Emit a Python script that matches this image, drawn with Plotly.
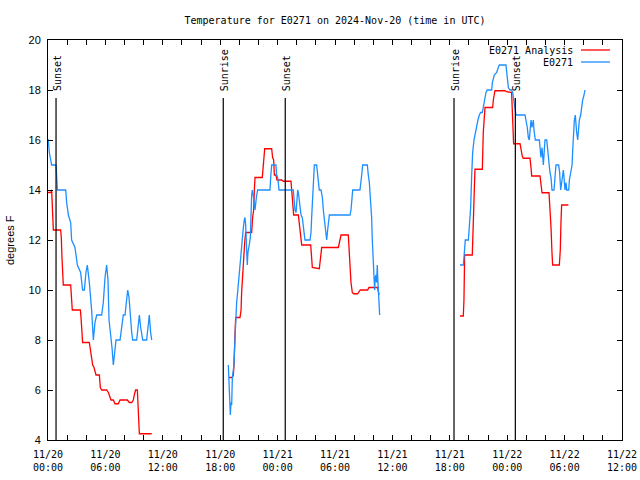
import pandas as pd
import plotly.graph_objects as go

START = "2024-11-20 00:00"
END = "2024-11-22 12:00"

# hours after 2024-11-20 00:00 UTC; None marks a data gap
obs_hours = [0.00, 0.03, 0.14, 0.38, 0.84, 0.98, 1.85, 1.95, 2.13, 2.37, 2.47, 2.82, 3.07, 3.41, 3.62, 3.80,
             3.97, 4.11, 4.32, 4.56, 4.74, 4.91, 5.09, 5.61, 5.78, 5.96, 6.13, 6.27, 6.38, 6.55, 6.69, 6.83,
             7.00, 7.11, 7.53, 7.70, 7.87, 8.05, 8.22, 8.33, 8.47, 8.57, 8.75, 8.85, 9.27, 9.44, 9.55, 9.69,
             9.90, 10.31, 10.49, 10.59, 10.73, 10.84,
             14.0,
             18.85, 18.92, 18.99, 19.06, 19.13, 19.20, 19.27, 19.37, 19.44, 19.55, 19.62, 19.72, 19.82, 19.90,
             20.00, 20.11, 20.21, 20.31, 20.42, 20.52, 20.59, 20.66, 20.70, 20.77, 20.83, 20.90, 21.01, 21.08,
             21.15, 21.22, 21.29, 21.36, 21.46, 21.53, 21.64, 21.71, 21.78, 21.91, 23.20, 23.28, 23.38, 23.83,
             23.90, 24.01, 24.15, 25.64, 25.71, 25.82, 25.93, 26.03, 26.10, 26.17, 26.24, 26.34, 26.45, 26.58,
             26.69, 26.86, 27.39, 27.49, 27.56, 27.67, 27.74, 27.84, 28.08, 28.19, 28.36, 28.54, 28.68, 28.78,
             28.89, 29.03, 29.13, 29.23, 29.30, 29.41, 31.57, 31.67, 31.74, 31.85, 32.61, 32.72, 32.79, 32.89,
             33.38, 33.48, 33.59, 33.69, 33.83, 33.90, 34.00, 34.07, 34.14, 34.21, 34.28, 34.35, 34.42, 34.49,
             34.56, 34.67,
             38.0,
             43.07, 43.41, 43.48, 43.55, 43.62, 43.94, 44.01, 44.11, 44.18, 44.28, 44.39, 44.53, 44.67, 44.81,
             44.94, 45.09, 45.22, 45.40, 45.50, 45.64, 45.78, 45.92, 46.38, 46.45, 46.65, 46.90, 47.07, 47.18,
             47.87, 48.01, 48.12, 48.29, 48.46, 48.57, 48.71, 48.81, 48.92, 49.86, 49.96, 50.10, 50.21, 50.31,
             50.42, 50.49, 50.59, 50.73, 50.80, 50.94, 51.36, 51.43, 51.53, 51.64, 51.71, 51.78, 51.88, 51.95,
             52.13, 52.23, 52.34, 52.47, 52.58, 52.68, 52.89, 53.00, 53.10, 53.38, 53.48, 53.59, 53.73, 53.87,
             53.94, 54.04, 54.15, 54.22, 54.43, 54.50, 54.64, 54.78, 54.85, 54.92, 55.02, 55.12, 55.19, 55.26,
             55.37, 55.47, 55.54, 55.68, 55.79, 55.89, 56.03, 56.13]
obs_temps = [16.0, 16.0, 15.5, 15.0, 15.0, 14.0, 14.0, 13.5, 13.0, 12.7, 12.0, 11.7, 11.0, 10.7, 10.0, 10.0,
             10.7, 11.0, 10.3, 9.2, 8.0, 8.7, 9.0, 9.0, 9.5, 10.5, 11.0, 10.4, 8.8, 8.3, 7.7, 7.0,
             7.7, 8.0, 8.0, 8.5, 9.0, 9.0, 9.7, 10.0, 9.7, 9.1, 8.3, 8.0, 8.0, 8.6, 9.0, 8.5,
             8.0, 8.0, 8.6, 9.0, 8.3, 8.0,
             None,
             7.0, 6.5, 5.5, 5.0, 5.5, 5.4, 6.5, 6.9, 7.0, 8.1, 9.1, 9.5, 9.9, 10.3,
             10.7, 11.2, 11.7, 12.1, 12.5, 12.8, 12.9, 12.6, 12.2, 11.5, 11.0, 11.5, 11.7, 11.9,
             12.1, 13.5, 13.8, 14.0, 13.8, 13.6, 13.2, 13.5, 13.7, 14.0, 14.0, 14.5, 15.0, 15.0,
             14.6, 14.5, 14.0, 14.0, 13.6, 13.2, 13.1, 13.5, 14.0, 13.9, 13.6, 13.2, 13.0, 12.9,
             12.5, 12.0, 12.0, 12.3, 12.9, 14.0, 14.5, 15.0, 15.0, 14.6, 14.0, 14.0, 13.7, 13.2,
             12.8, 12.3, 12.0, 12.4, 12.7, 13.0, 13.0, 13.2, 13.5, 14.0, 14.0, 14.3, 14.6, 15.0,
             15.0, 14.6, 14.3, 13.7, 12.9, 12.0, 11.1, 10.3, 10.0, 10.5, 10.6, 10.3, 11.0, 10.3,
             9.5, 9.0,
             None,
             11.0, 11.0, 11.3, 11.7, 12.0, 12.0, 12.3, 12.9, 13.3, 14.5, 15.5, 16.0, 16.3, 16.6,
             16.8, 17.0, 17.1, 17.1, 17.4, 17.6, 17.9, 18.0, 18.0, 18.3, 18.6, 18.7, 18.9, 19.0,
             19.0, 18.5, 18.1, 18.0, 18.0, 17.9, 17.6, 17.4, 17.0, 17.0, 16.8, 16.5, 16.1, 16.0,
             16.5, 16.8, 16.5, 16.8, 16.4, 16.0, 16.0, 15.7, 15.3, 15.7, 15.3, 15.0, 15.6, 16.0,
             16.0, 15.6, 15.0, 14.7, 14.5, 14.0, 14.0, 14.4, 15.0, 15.0, 14.7, 14.0, 14.5, 14.8,
             14.5, 14.0, 14.3, 14.0, 14.0, 14.4, 14.7, 15.0, 15.6, 16.3, 16.8, 17.0, 16.5, 16.3,
             16.0, 16.4, 16.8, 17.0, 17.4, 17.6, 17.8, 18.0]

ana_hours = [0.00, 0.31, 0.38, 0.45, 0.49, 0.56, 1.32, 1.39, 1.46, 1.53, 1.60, 2.37, 2.40, 2.47, 2.54, 2.93,
             3.38, 3.45, 3.52, 3.62, 4.32, 4.39, 4.46, 4.56, 4.67, 4.81, 4.91, 5.02, 5.37, 5.47, 5.61, 6.13,
             6.31, 6.48, 6.59, 6.83, 7.00, 7.35, 7.53, 8.29, 8.50, 8.75, 8.92, 9.02, 9.16, 9.34, 9.41, 9.48,
             9.55, 10.84,
             14.0,
             18.92, 19.27, 19.37, 19.44, 19.55, 19.62, 20.07, 20.18, 20.24, 20.35, 20.45, 20.56, 20.66, 21.29,
             21.39, 21.50, 21.57, 21.64, 22.40, 22.51, 22.58, 22.65, 23.38, 23.48, 23.59, 23.66, 23.83, 23.94,
             24.42, 24.60, 25.40, 25.47, 25.54, 25.61, 25.68, 26.17, 26.24, 26.34, 26.45, 26.52, 27.46, 27.56,
             27.63, 28.36, 28.47, 28.61, 30.35, 30.45, 30.63, 31.39, 31.46, 31.57, 31.67, 31.81, 31.95, 32.37,
             32.51, 32.64, 33.41, 33.55, 34.46, 34.53, 34.60,
             38.0,
             43.07, 43.41, 43.48, 43.55, 44.35, 44.46, 44.56, 44.63, 45.40, 45.50, 45.68, 46.48, 46.55, 46.72,
             47.77, 47.94, 48.46, 48.53, 48.60, 48.67, 49.34, 49.44, 49.58, 49.68, 50.38, 50.49, 50.56, 51.43,
             51.53, 51.64, 52.37, 52.47, 52.58, 52.68, 52.75, 53.45, 53.55, 53.62, 53.69, 54.39]
ana_temps = [13.9, 13.9, 14.0, 13.5, 12.8, 12.4, 12.4, 12.1, 11.3, 10.6, 10.2, 10.2, 9.9, 9.5, 9.2, 9.2,
             9.2, 8.9, 8.2, 7.9, 7.9, 7.7, 7.5, 7.2, 7.0, 6.9, 6.7, 6.6, 6.6, 6.1, 6.0, 6.0,
             5.9, 5.7, 5.6, 5.6, 5.45, 5.45, 5.6, 5.6, 5.5, 5.5, 5.6, 5.8, 6.0, 6.0, 5.55, 4.7,
             4.25, 4.25,
             None,
             6.5, 6.5, 6.6, 7.0, 8.3, 8.9, 8.9, 9.2, 9.9, 10.7, 11.3, 11.9, 12.3, 12.3,
             12.9, 13.2, 14.0, 14.5, 14.5, 15.0, 15.3, 15.65, 15.65, 15.3, 15.2, 14.6, 14.6, 14.4,
             14.4, 14.35, 14.35, 14.0, 13.7, 13.3, 13.0, 13.0, 12.8, 12.5, 12.1, 11.8, 11.8, 11.2,
             10.9, 10.85, 11.2, 11.7, 11.7, 11.9, 12.2, 12.2, 11.7, 10.6, 10.3, 9.9, 9.85, 9.85,
             9.95, 10.0, 10.0, 10.1, 10.1, 9.95, 9.8,
             None,
             8.96, 8.96, 9.6, 11.4, 11.4, 12.7, 13.9, 14.83, 14.83, 16.3, 17.3, 17.3, 17.6, 17.97,
             17.97, 17.93, 17.9, 17.4, 16.4, 15.85, 15.85, 15.6, 15.35, 15.27, 15.27, 14.9, 14.56, 14.56,
             14.2, 13.89, 13.89, 13.4, 12.5, 11.5, 11.0, 11.0, 11.6, 12.7, 13.4, 13.4]

sun_hours = [0.84, 18.32, 24.80, 42.44, 48.85]
sun_labels = ["Sunset", "Sunrise", "Sunset", "Sunrise", "Sunset"]

t0 = pd.Timestamp(START)
def to_time(hours):
    return [t0 + pd.Timedelta(hours=h) for h in hours]

RED = "#ff0000"
BLUE = "#1e8fff"
MONO = "DejaVu Sans Mono"
SANS = "Liberation Sans"

fig = go.Figure()
fig.add_trace(go.Scatter(x=to_time(ana_hours), y=ana_temps, mode="lines", name="E0271 Analysis",
                         line=dict(color=RED, width=1.3), connectgaps=False, showlegend=False))
fig.add_trace(go.Scatter(x=to_time(obs_hours), y=obs_temps, mode="lines", name="E0271",
                         line=dict(color=BLUE, width=1.3), connectgaps=False, showlegend=False))

for h, lab in zip(sun_hours, sun_labels):
    t = t0 + pd.Timedelta(hours=h)
    fig.add_shape(type="line", xref="x", yref="paper", x0=t, x1=t, y0=0, y1=0.855,
                  line=dict(color="black", width=1.2))
    fig.add_annotation(x=t, xref="x", y=0.8675, yref="paper", text=lab, textangle=-90,
                       showarrow=False, xanchor="center", yanchor="bottom", xshift=2,
                       font=dict(family=MONO, size=10, color="black"))

# legend (text right-aligned, sample line on the right, as in the reference)
for name, col, yp in [("E0271 Analysis", RED, 0.975), ("E0271", BLUE, 0.945)]:
    fig.add_annotation(x=0.918, xref="paper", y=yp, yref="paper", text=name, showarrow=False,
                       xanchor="right", yanchor="middle", font=dict(family=MONO, size=10, color="black"))
    fig.add_shape(type="line", xref="paper", yref="paper", x0=0.9286, x1=0.979, y0=yp, y1=yp,
                  line=dict(color=col, width=1.3))

fig.add_annotation(x=0, xref="paper", y=0.5, yref="paper", xshift=-38, text="degrees F",
                   textangle=-90, showarrow=False, xanchor="center", yanchor="middle",
                   font=dict(family=SANS, size=11, color="black"))

fig.update_layout(
    width=640, height=480,
    margin=dict(l=48, r=18, t=40, b=40, autoexpand=False),
    paper_bgcolor="white", plot_bgcolor="white",
    title=dict(text="Temperature for E0271 on 2024-Nov-20 (time in UTC)", x=0.5, xref="paper",
               xanchor="center", y=1 - 20 / 480, yref="container", yanchor="middle",
               font=dict(family=MONO, size=10, color="black")),
    xaxis=dict(type="date", range=[START, END], dtick=6 * 3600 * 1000, tick0=START,
               tickformat="%m/%d<br>%H:%M", ticks="inside", ticklen=5, tickcolor="black",
               showline=True, linecolor="black", linewidth=1, mirror="ticks", showgrid=False,
               zeroline=False, ticklabelstandoff=5, automargin=False,
               tickfont=dict(family=MONO, size=10, color="black"),
               minor=dict(dtick=2 * 3600 * 1000, tick0=START, ticks="inside", ticklen=5,
                          tickcolor="black", showgrid=False)),
    yaxis=dict(range=[4, 20], dtick=2, ticks="inside", ticklen=5, tickcolor="black",
               showline=True, linecolor="black", linewidth=1, mirror="ticks", showgrid=False,
               zeroline=False, ticklabelstandoff=4, automargin=False,
               tickfont=dict(family=SANS, size=11, color="black")),
)

fig.write_html("out.html", config={"displayModeBar": False},
               post_script="document.body.style.margin='0';")
